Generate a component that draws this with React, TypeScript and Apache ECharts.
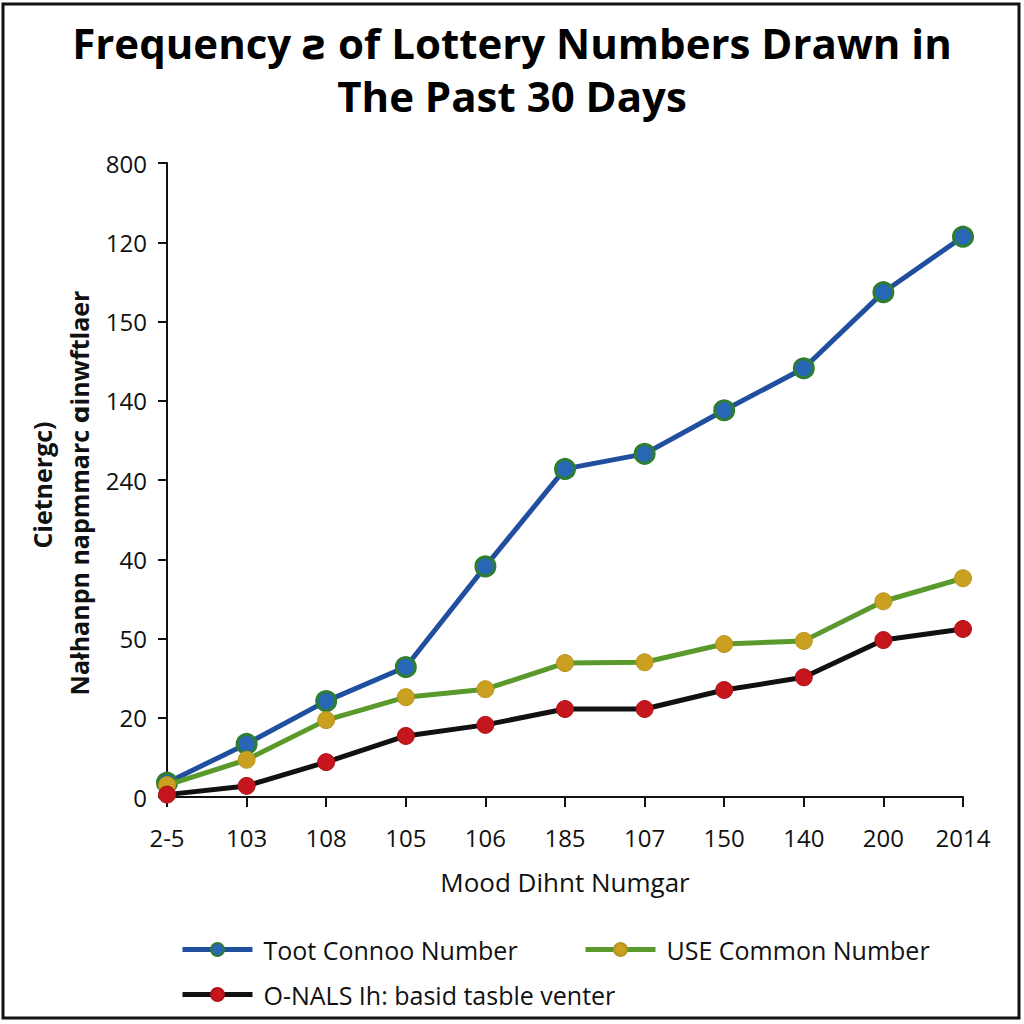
import React, { useEffect, useRef } from "react";
import * as echarts from "echarts";

const categories = ["2-5", "103", "108", "105", "106", "185", "107", "150", "140", "200", "2014"];
const yTickLabels = ["0", "20", "50", "40", "240", "140", "150", "120", "800"];
const blueValues = [0.18, 0.67, 1.21, 1.64, 2.91, 4.14, 4.33, 4.88, 5.41, 6.37, 7.07];
const greenValues = [0.15, 0.47, 0.97, 1.26, 1.36, 1.69, 1.7, 1.93, 1.97, 2.47, 2.76];
const redValues = [0.03, 0.14, 0.44, 0.77, 0.91, 1.11, 1.11, 1.35, 1.51, 1.98, 2.12];
const seriesNames = ["Toot Connoo Number", "USE Common Number", "O-NALS Ih: basid tasble venter"];
const titleText = "Frequency ƨ of Lottery Numbers Drawn in\nThe Past 30 Days";
const xAxisName = "Mood Dihnt Numgar";
const yNameOuter = "Cietnergc)";
const yNameInner = "Nałhanpn napmmarc ɑinwftlaer";

const FONT = "'Open Sans', 'DejaVu Sans', sans-serif";

export default function App() {
  const ref = useRef<HTMLDivElement>(null);
  useEffect(() => {
    document.body.style.margin = "0";
    const chart = echarts.init(ref.current!, null, { renderer: "svg" });
    const legendText = { fontSize: 25, color: "#111", fontFamily: FONT, padding: [0, 0, 0, 6] };
    const legendCommon = { itemWidth: 70, itemHeight: 16, textStyle: legendText, lineStyle: { width: 5 } };
    chart.setOption({
      animation: false,
      backgroundColor: "#ffffff",
      title: {
        text: titleText,
        left: "center",
        top: 11,
        textStyle: { fontSize: 42, fontWeight: "bold", color: "#000", fontFamily: FONT, lineHeight: 53 },
      },
      grid: { left: 167, right: 61, top: 163, bottom: 227 },
      xAxis: {
        type: "category",
        data: categories,
        boundaryGap: false,
        name: xAxisName,
        nameLocation: "middle",
        nameGap: 72,
        nameTextStyle: { fontSize: 26, color: "#111", fontFamily: FONT },
        axisLine: { lineStyle: { color: "#111", width: 2 } },
        axisTick: { show: true, length: 10, lineStyle: { color: "#111", width: 2 }, alignWithLabel: true },
        axisLabel: { fontSize: 24, color: "#111", fontFamily: FONT, margin: 28 },
        splitLine: { show: false },
      },
      yAxis: {
        type: "value",
        min: 0,
        max: 8,
        interval: 1,
        axisLine: { show: true, lineStyle: { color: "#111", width: 2 } },
        axisTick: { show: true, length: 9, lineStyle: { color: "#111", width: 2 } },
        axisLabel: {
          fontSize: 24,
          color: "#111",
          fontFamily: FONT,
          margin: 20,
          formatter: (v: number) => yTickLabels[Math.round(v)] ?? "",
        },
        splitLine: { show: false },
      },
      legend: [
        { data: [seriesNames[0]], left: 175, top: 932, ...legendCommon },
        { data: [seriesNames[1]], left: 578, top: 932, ...legendCommon },
        { data: [seriesNames[2]], left: 175, top: 977, ...legendCommon },
      ],
      graphic: [
        {
          type: "rect",
          shape: { x: 3, y: 4, width: 1016, height: 1014 },
          style: { fill: "none", stroke: "#111", lineWidth: 3 },
          silent: true,
        },
        {
          type: "text",
          x: 42,
          y: 485,
          rotation: Math.PI / 2,
          style: { text: yNameOuter, fontSize: 25, fontWeight: "bold", fill: "#111", fontFamily: FONT, textAlign: "center", textVerticalAlign: "middle" },
        },
        {
          type: "text",
          x: 79,
          y: 493,
          rotation: Math.PI / 2,
          style: { text: yNameInner, fontSize: 25, fontWeight: "bold", fill: "#111", fontFamily: FONT, textAlign: "center", textVerticalAlign: "middle" },
        },
      ],
      series: [
        {
          name: seriesNames[0],
          type: "line",
          data: blueValues,
          symbol: "circle",
          symbolSize: 19,
          lineStyle: { color: "#1f4f9e", width: 5 },
          itemStyle: { color: "#2867b5", borderColor: "#2e7d32", borderWidth: 3 },
          z: 2,
        },
        {
          name: seriesNames[1],
          type: "line",
          data: greenValues,
          symbol: "circle",
          symbolSize: 17,
          lineStyle: { color: "#5a9a2c", width: 5 },
          itemStyle: { color: "#c9a020", borderColor: "#b8951e", borderWidth: 1 },
          z: 3,
        },
        {
          name: seriesNames[2],
          type: "line",
          data: redValues,
          symbol: "circle",
          symbolSize: 17,
          lineStyle: { color: "#111111", width: 5 },
          itemStyle: { color: "#c4161c", borderColor: "#b01218", borderWidth: 1 },
          z: 4,
        },
      ],
    });
    return () => chart.dispose();
  }, []);
  return <div ref={ref} style={{ width: 1024, height: 1024 }} />;
}
